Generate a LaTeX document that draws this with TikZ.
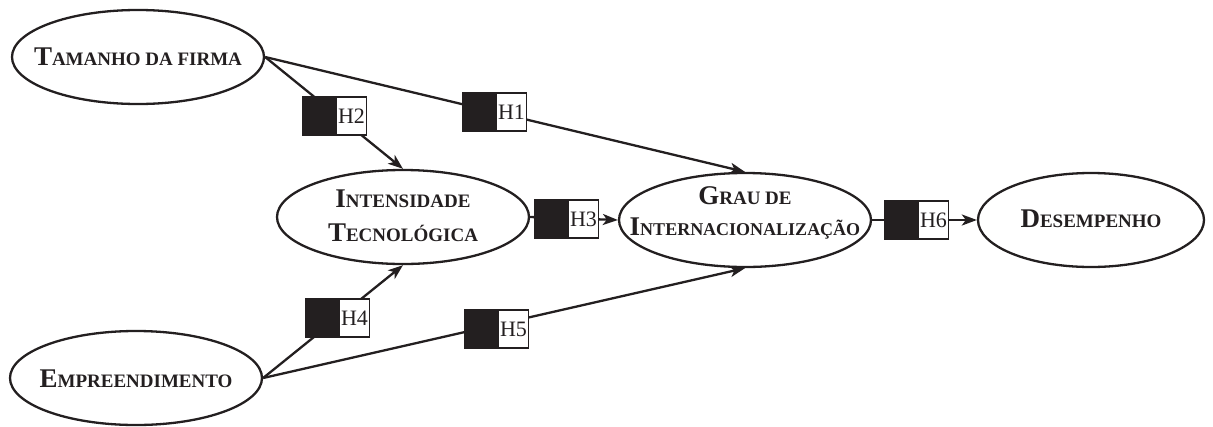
\documentclass[tikz,border=0pt]{standalone}
\usepackage{fontspec}
\setmainfont{Liberation Serif}
\usetikzlibrary{shapes.geometric,arrows.meta}
\definecolor{ink}{RGB}{35,31,32}
\newcommand\scw[3][19]{{\fontsize{27}{29}\selectfont #2}{\fontsize{#1}{21}\selectfont #3}}
\newcommand\oneline[2]{\smash{\makebox[0pt]{\raisebox{#1}{\makebox[0pt]{#2}}}}}
\newcommand\twoline[4]{\smash{\makebox[0pt]{\raisebox{#1}{\makebox[0pt]{#2}}\raisebox{#3}{\makebox[0pt]{#4}}}}}
\begin{document}
\begin{tikzpicture}[x=1pt,y=-1pt,
  construct/.style={ellipse,draw=ink,line width=2.3pt,minimum width=252pt,minimum height=94pt,inner sep=0pt,
    font=\bfseries,text=ink,fill=white},
  link/.style={draw=ink,line width=2.3pt},
  arr/.style={link,-{Stealth[length=15pt,width=11pt,inset=4pt]}},
  blk/.style={draw=ink,fill=ink,line width=1.5pt,minimum width=32pt,minimum height=38pt,inner sep=0pt},
  wht/.style={draw=ink,fill=white,line width=1.5pt,minimum width=30pt,minimum height=38pt,inner sep=0pt,
    anchor=west,font=\fontsize{22}{24}\selectfont,text=ink}
]
\useasboundingbox (0,0) rectangle (1213,426);
\node[construct] (t) at (138,57) {\oneline{-8pt}{\scw{T}{AMANHO DA FIRMA}}};
\node[construct] (i) at (403,217) {\twoline{10pt}{\scw{I}{NTENSIDADE}}{-24pt}{\scw{T}{ECNOLÓGICA}}};
\node[construct] (g) at (745,220) {\twoline{16pt}{\scw{G}{RAU DE}}{-15pt}{\scw[18]{I}{NTERNACIONALIZAÇÃO}}};
\node[construct,minimum width=226pt] (d) at (1091,220) {\oneline{-7pt}{\scw{D}{ESEMPENHO}}};
\node[construct] (e) at (136,378) {\oneline{-9pt}{\scw{E}{MPREENDIMENTO}}};

\draw[arr] (t.east) -- (i.north);
\draw[arr] (t.east) -- (g.north);
\draw[arr] (i.east) -- (g.west);
\draw[arr] (e.east) -- (i.south);
\draw[arr] (e.east) -- (g.south);
\draw[arr] (g.east) -- (d.west);

\node[blk] (b2) at (319,116) {}; \node[wht] (w2) at (b2.east) {H2};
\node[blk] (b1) at (479,112) {}; \node[wht] (w1) at (b1.east) {H1};
\node[blk] (b3) at (551,219) {}; \node[wht] (w3) at (b3.east) {H3};
\node[blk] (b4) at (322,318) {}; \node[wht] (w4) at (b4.east) {H4};
\node[blk] (b5) at (481,329) {}; \node[wht] (w5) at (b5.east) {H5};
\node[blk] (b6) at (901,220) {}; \node[wht] (w6) at (b6.east) {H6};
\end{tikzpicture}
\end{document}
